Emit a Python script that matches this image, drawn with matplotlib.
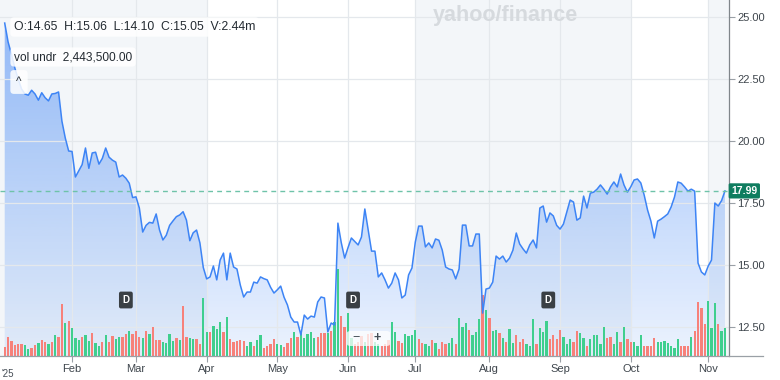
import numpy as np
import matplotlib
matplotlib.use("Agg")
import matplotlib.pyplot as plt
from matplotlib.patches import FancyBboxPatch
from matplotlib.lines import Line2D
import matplotlib.transforms as mtransforms

plt.rcParams["font.family"] = ["Liberation Sans", "DejaVu Sans"]

# daily closes, Jan 2 2025 -> Nov 10 2025 (trading days)
price = [
    24.76, 24.0, 23.5, 22.95, 22.5, 22.1, 21.9, 21.85, 22.05, 21.9,
    21.65, 21.95, 21.75, 21.62, 21.9, 21.92, 21.98, 20.8, 20.12, 19.6,
    19.58, 18.55, 18.8, 19.05, 19.72, 18.9, 19.52, 19.55, 19.07, 19.3,
    19.72, 19.35, 19.23, 19.15, 18.55, 18.63, 18.5, 18.3, 17.72,
    17.75, 17.3, 16.33, 16.6, 16.72, 16.69, 17.06, 16.41, 16.01, 16.2,
    16.6, 16.78, 16.95, 17.02, 17.15, 16.81, 15.98, 16.3, 16.41, 15.89,
    14.9, 14.44,
    14.52, 14.96, 14.40, 15.2, 15.48, 14.40, 15.48, 14.92, 14.84, 14.19,
    13.71, 13.91, 13.91, 14.31, 14.27, 14.52, 14.45, 14.40, 14.1, 13.87,
    14.0, 14.15, 13.7, 13.39, 12.9, 12.7, 12.7, 12.18, 12.98, 12.82,
    12.94, 12.9, 13.51, 13.71, 13.67, 12.3, 12.66, 12.58,
    16.69, 15.9, 15.28, 15.7, 16.09, 15.95, 15.81, 16.13, 17.26, 16.4,
    15.56, 15.56, 14.52, 14.68, 14.4, 14.07, 14.27, 14.68, 14.40, 13.67,
    13.79, 14.6, 14.88, 15.93, 16.57, 16.57, 15.73, 15.89, 15.69, 16.05,
    16.0, 15.6, 14.92, 14.84, 14.8, 14.44, 14.84, 16.61, 16.61, 15.77,
    15.77, 16.25, 16.25, 13.06, 14.03, 14.07, 14.31, 15.36, 15.24, 15.36,
    15.12, 15.28, 15.6, 16.29, 15.85, 15.65, 15.48, 15.81, 16.01, 15.69,
    17.3, 17.38, 16.73, 17.1, 16.98, 16.6, 16.45, 16.65, 17.14, 17.62,
    17.54, 16.81, 16.9, 17.78, 17.3, 17.9, 17.94, 18.06, 18.23, 18.06,
    17.86, 18.15, 18.35, 18.15, 18.67, 18.23, 17.94, 18.15, 18.43, 18.47,
    18.31, 17.82, 17.22, 16.77, 16.09, 16.77, 16.85, 16.95, 17.06, 17.34,
    17.74, 18.35, 18.3, 18.15, 17.98, 18.06, 17.98, 15.08, 14.72, 14.6,
    14.95, 15.2, 17.5, 17.38, 17.6, 17.99,
]

# relative volume and up/down flag
volume = [
    9, 19, 15, 11, 12, 12, 11, 7, 8, 11, 13, 16, 14, 12, 14, 21, 19, 52, 33, 35,
    28, 18, 16, 19, 21, 15, 23, 13, 10, 14, 21, 14, 20, 17, 19, 19, 22, 25, 22,
    25, 19, 18, 25, 22, 29, 16, 16, 14, 13, 22, 15, 18, 16, 50, 19, 18, 17, 17,
    12, 58, 24, 24, 30, 27, 34, 24, 39, 17, 14, 15, 16, 15, 10,
    14, 10, 16, 21, 8, 10, 12, 17, 12, 11, 9, 13, 18, 24, 19, 24, 18, 22, 24,
    18, 19, 23, 23, 23, 25, 34, 87,
    40, 29, 43, 18, 12, 14, 20, 14, 22, 23, 14, 12, 10, 12,
    16, 34, 24, 15, 13, 22, 20, 21, 26, 17, 13, 12, 10, 16, 13, 7, 14, 12, 13,
    18, 12, 38, 29, 33, 26, 21, 24, 37, 61, 46, 38, 25, 26, 23,
    18, 14, 27, 13, 21, 14, 17, 12, 10, 37, 12, 28, 24, 35, 17, 21, 17, 26, 19,
    12, 17, 14, 25, 23, 18, 10, 17, 21, 21, 12, 29, 18, 19, 12, 24, 14, 29, 17,
    14, 14, 10, 21, 10, 10, 10, 18, 14, 14, 15, 13, 10, 8, 17, 10, 10, 10, 19,
    25, 54, 48, 32, 55, 28, 53, 32, 25, 28,
]
up = (
    "rrrrrrrggrrgrrgrgrrg"
    "rgggrggrggrgrrggrrgrrrgrgrrrggggrgrrggrrggrgggrgrrrrrg"
    "grggrrrrggrrrgrgggggrrrgrgg"
    "rrggrrrgrrggrr"
    "rggrrggggrrggrgrrrggrgggrgggrgrggr"
    "grggrrrgggrgggrrrrgggrrggrgggggrrggrgrrgggrrrrgggggggrrrgrrrrgggrgg"
)
up = up[1:]

month_idx = [20, 39, 60, 81, 102, 122, 144, 165, 186, 209]
month_lbl = ["Feb", "Mar", "Apr", "May", "Jun", "Jul", "Aug", "Sep", "Oct", "Nov"]
shaded = [(None, 60), (122, 186), (209, None)]
dividend_idx = [36, 103.5, 161.5]
last_price = 17.99
price_ticks = [12.5, 15.0, 17.5, 20.0, 22.5, 25.0]

assert len(price) == 215, len(price)
assert len(volume) == 215, len(volume)
assert len(up) == 215, len(up)

idx = np.arange(len(price))
xlim = (-1.4, 215.2)
ylim = (11.33, 25.69)

W, H = 780, 380
fig = plt.figure(figsize=(W / 100, H / 100), dpi=100)
pos = [0, 24 / H, 729 / W, 356 / H]

ax = fig.add_axes(pos)
ax.set_xlim(*xlim)
ax.set_ylim(*ylim)
ax.set_facecolor("white")
for a, b in shaded:
    ax.axvspan(xlim[0] if a is None else a, xlim[1] if b is None else b,
               color="#f3f6f9", lw=0, zorder=0.5)

# gradient fill under the price line
poly = ax.fill_between(idx, price, ylim[0], facecolor="none", edgecolor="none")
grad = np.zeros((256, 1, 4))
grad[:, 0, 0:3] = np.array([59, 130, 246]) / 255
grad[:, 0, 3] = np.linspace(0.55, 0.10, 256)
img = ax.imshow(grad, extent=[xlim[0], xlim[1], ylim[0], ylim[1]],
                aspect="auto", origin="upper", zorder=1.2)
img.set_clip_path(poly.get_paths()[0], transform=ax.transData)
ax.set_xlim(*xlim)
ax.set_ylim(*ylim)

ax.set_xticks(month_idx)
ax.set_xticklabels(month_lbl)
ax.set_yticks(price_ticks)
ax.set_yticklabels([f"{t:.2f}" for t in price_ticks])
ax.yaxis.tick_right()
ax.grid(True, color="#e4e8ec", lw=0.9)
ax.tick_params(axis="x", length=4, width=0.8, color="#9aa0a6",
               labelsize=8, labelcolor="#3f464d", pad=2)
ax.tick_params(axis="y", length=4, width=0.8, color="#9aa0a6",
               labelsize=8, labelcolor="#3f464d", pad=2)
for s in ["top", "left", "bottom"]:
    ax.spines[s].set_visible(False)
ax.spines["right"].set_color("#80868b")
ax.spines["right"].set_linewidth(0.9)

# volume bars
axv = fig.add_axes(pos, sharex=ax)
axv.set_facecolor("none")
axv.bar(idx, volume, width=0.68,
        color=["#3fcf8e" if c == "g" else "#f7817a" for c in up], lw=0)
axv.set_ylim(0, max(volume) * 4.1)
axv.axis("off")

# price line
axl = fig.add_axes(pos, sharex=ax)
axl.set_facecolor("none")
axl.set_ylim(*ylim)
axl.axis("off")
axl.plot(idx, price, color="#3d84f5", lw=1.1, solid_joinstyle="round")
axl.axhline(last_price, color="#6fc3a9", lw=1.0, dashes=(3.5, 3))
axl.set_xlim(*xlim)

trans = mtransforms.blended_transform_factory(axl.transAxes, axl.transData)
axl.text(1.021, last_price, f"{last_price:.2f}", transform=trans, ha="center",
         va="center", color="white", fontsize=7.5, fontweight="bold", clip_on=False,
         bbox=dict(boxstyle="round,pad=0.25,rounding_size=0.15", fc="#0f7d5f", ec="none"))

dtrans = mtransforms.blended_transform_factory(axl.transData, axl.transAxes)
for d in dividend_idx:
    axl.text(d, (356 - 300) / 356, "D", transform=dtrans, ha="center", va="center",
             color="white", fontsize=7, fontweight="bold",
             bbox=dict(boxstyle="round,pad=0.35,rounding_size=0.2", fc="#3a3f44", ec="none"))

# bottom axis line running past the right spine
fig.add_artist(Line2D([0, 763 / W], [24 / H, 24 / H], color="#9aa0a6", lw=0.9))

fig.text(1 / W, 1 - 369 / H, "'25", fontsize=7, color="#464e56", va="top")

fig.text(505 / W, 1 - 15 / H, "yahoo/finance", ha="center", va="center",
         fontsize=15.5, fontweight="bold", color="#d6dade")

box = dict(boxstyle="round,pad=0.3,rounding_size=0.3", fc="white", ec="none", alpha=0.85)
fig.text(14 / W, 1 - 27 / H, "O:14.65  H:15.06  L:14.10  C:15.05  V:2.44m",
         fontsize=8.8, color="#232a31", va="center", bbox=box)
fig.text(14 / W, 1 - 57 / H, "vol undr  2,443,500.00",
         fontsize=8.6, color="#232a31", va="center", bbox=box)
fig.text(19 / W, 1 - 82 / H, "^", fontsize=8.5, color="#232a31", ha="center",
         va="center", bbox=dict(boxstyle="round,pad=0.5,rounding_size=0.3",
                                fc="white", ec="none", alpha=0.85))

# zoom control
fig.add_artist(FancyBboxPatch((347 / W, 1 - 346 / H), 43 / W, 15 / H,
                              boxstyle="round,pad=0,rounding_size=0.005",
                              fc="white", ec="none", alpha=0.75,
                              transform=fig.transFigure))
fig.text(356 / W, 1 - 338 / H, "\u2212", fontsize=9, color="#464e56",
         ha="center", va="center")
fig.text(377 / W, 1 - 338 / H, "+", fontsize=9, color="#464e56",
         ha="center", va="center", fontweight="bold")

fig.savefig("out.png", dpi=100)
